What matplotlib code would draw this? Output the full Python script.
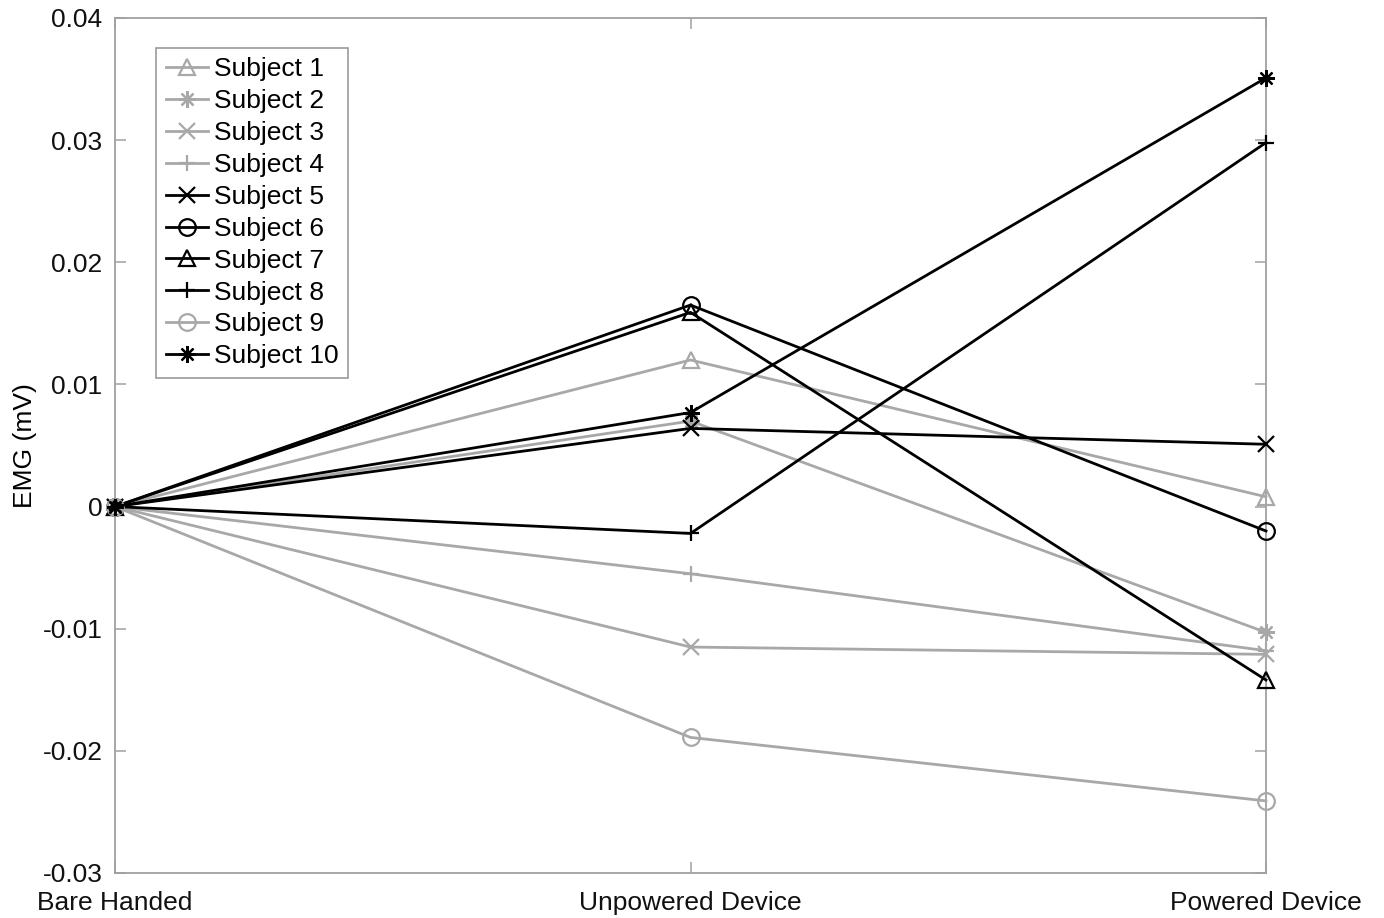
import numpy as np
import matplotlib
matplotlib.use('Agg')
import matplotlib.pyplot as plt

plt.rcParams['font.family'] = ['Liberation Sans', 'DejaVu Sans']

CONDITIONS = ['Bare Handed', 'Unpowered Device', 'Powered Device']
SUBJECTS = [f'Subject {i}' for i in range(1, 11)]

# EMG change relative to bare-handed baseline (mV)
S1 = [0.0, 0.0120, 0.0008]
S2 = [0.0, 0.0070, -0.0103]
S3 = [0.0, -0.0115, -0.0121]
S4 = [0.0, -0.0055, -0.0118]
S5 = [0.0, 0.0064, 0.0051]
S6 = [0.0, 0.0165, -0.0020]
S7 = [0.0, 0.0159, -0.0142]
S8 = [0.0, -0.0022, 0.0298]
S9 = [0.0, -0.0189, -0.0241]
S10 = [0.0, 0.0077, 0.0351]
EMG = [S1, S2, S3, S4, S5, S6, S7, S8, S9, S10]

YTICKS = [-0.03, -0.02, -0.01, 0.0, 0.01, 0.02, 0.03, 0.04]
YTICKLABELS = ['-0.03', '-0.02', '-0.01', '0', '0.01', '0.02', '0.03', '0.04']

GRAY = '#a8a8a8'
STAR = (8, 2, 0)  # plus + cross asterisk
styles = [
    (GRAY, '^'), (GRAY, STAR), (GRAY, 'x'), (GRAY, '+'),
    ('black', 'x'), ('black', 'o'), ('black', '^'), ('black', '+'),
    (GRAY, 'o'), ('black', STAR),
]

fig = plt.figure(figsize=(13.84, 9.18), dpi=100)
ax = fig.add_axes([115 / 1384, 1 - 873 / 918, (1266 - 115) / 1384, (873 - 18) / 918])

x = np.arange(1, len(CONDITIONS) + 1)
for name, vals, (color, marker) in zip(SUBJECTS, EMG, styles):
    ax.plot(x, vals, color=color, marker=marker, lw=2.0, ms=12,
            mew=1.6, mfc='none', label=name, clip_on=False, zorder=3)

ax.set_xlim(1, 3)
ax.set_ylim(-0.03, 0.04)
ax.set_xticks(x)
ax.set_xticklabels(CONDITIONS, fontsize=19)
ax.set_yticks(YTICKS)
ax.set_yticklabels(YTICKLABELS, fontsize=19)
ax.set_ylabel('EMG (mV)', fontsize=19, labelpad=4)

for spine in ax.spines.values():
    spine.set_color('#a0a0a0')
    spine.set_linewidth(1.3)
ax.tick_params(direction='in', color='#a0a0a0', length=8, width=1.1,
               top=True, right=True, labelcolor='#111111')
ax.tick_params(axis='x', pad=13)
ax.tick_params(axis='y', pad=9)

leg = ax.legend(loc='upper left', bbox_to_anchor=(0.036, 0.965), fontsize=19,
                frameon=True, fancybox=False, handlelength=1.6,
                handletextpad=0.25, labelspacing=0.3, borderpad=0.35,
                borderaxespad=0)
leg.get_frame().set_edgecolor('#808080')
leg.get_frame().set_linewidth(1.2)
leg.set_zorder(5)

fig.savefig('out.png', dpi=100)
